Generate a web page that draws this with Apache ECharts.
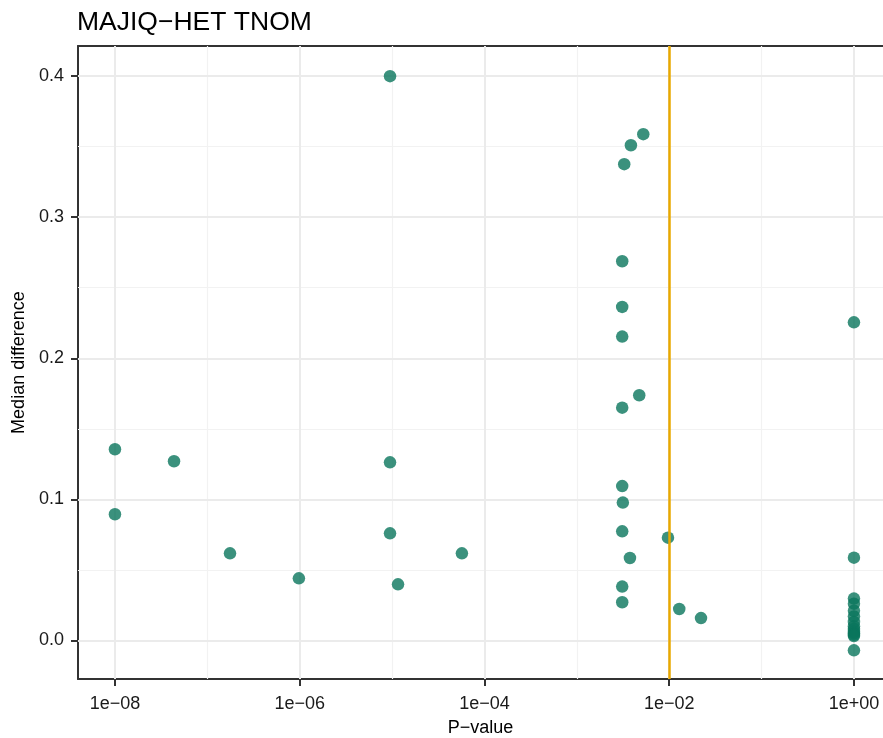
<!DOCTYPE html>
<html>
<head>
<meta charset="utf-8">
<script src="https://cdn.jsdelivr.net/npm/echarts@6/dist/echarts.min.js"></script>
<style>html,body{margin:0;padding:0;background:#fff}#c{width:883px;height:738px}</style>
</head>
<body>
<div id="c"></div>
<script>
const titleText = "MAJIQ\u2212HET TNOM";
const xName = "P\u2212value";
const yName = "Median difference";
// x axis is drawn on log10(P-value)
const xTicks = [-8, -6, -4, -2, 0];
const xTickLabels = ["1e\u221208", "1e\u221206", "1e\u221204", "1e\u221202", "1e+00"];
const xMinorGrid = [-7, -5, -3, -1];
const yTicks = [0, 0.1, 0.2, 0.3, 0.4];
const yMinorGrid = [0.05, 0.15, 0.25, 0.35];
const thresholdP = 0.01;

const pValues = [
  1e-8, 1e-8, 4.36e-8, 1.76e-7, 9.8e-7, 9.5e-6, 9.5e-6, 9.5e-6, 1.16e-5, 5.7e-5,
  5.24e-3, 3.85e-3, 3.26e-3, 3.1e-3, 3.1e-3, 3.1e-3, 4.74e-3, 3.1e-3,
  3.1e-3, 3.15e-3, 3.1e-3, 9.7e-3, 3.76e-3, 3.1e-3, 3.1e-3, 0.01285, 0.0221,
  1, 1, 1, 1, 1, 1, 1, 1, 1, 1, 1, 1, 1, 1
];
const medianDiff = [
  0.1355, 0.0894, 0.127, 0.0617, 0.044, 0.400, 0.1262, 0.0759, 0.0397, 0.0617,
  0.3589, 0.351, 0.3376, 0.2688, 0.2364, 0.2154, 0.1738, 0.165,
  0.1094, 0.0977, 0.0773, 0.0728, 0.0584, 0.0381, 0.0270, 0.0222, 0.0158,
  0.2255, 0.0586, 0.0296, 0.026, 0.021, 0.017, 0.013, 0.010, 0.008, 0.006, 0.005, 0.004, 0.003, -0.0071
];

const points = pValues.map((p, i) => [Math.log10(p), medianDiff[i]]);
const font = "'Liberation Sans', Arial, Helvetica, sans-serif";
const xMin = -8.4, xMax = 0.3145;

const chart = echarts.init(document.getElementById('c'), null, {renderer: 'canvas'});
chart.setOption({
  animation: false,
  title: {
    text: titleText, left: 77, top: 9, padding: 0,
    textStyle: {fontFamily: font, fontSize: 26.5, fontWeight: 'normal', color: '#000'}
  },
  grid: {left: 78, top: 46, right: 0, bottom: 59, show: false, containLabel: false, outerBoundsMode: 'none'},
  xAxis: [{
    type: 'value', min: xMin, max: xMax,
    name: xName, nameLocation: 'middle', nameGap: 40,
    nameTextStyle: {fontFamily: font, fontSize: 18, color: '#000'},
    axisLine: {show: true, onZero: false, lineStyle: {color: '#333', width: 2}},
    axisTick: {show: true, length: 7, lineStyle: {color: '#333', width: 2}, customValues: xTicks},
    axisLabel: {
      show: true, margin: 16, fontFamily: font, fontSize: 18, color: '#1a1a1a',
      customValues: xTicks,
      formatter: function (v) {
        const i = xTicks.findIndex(t => Math.abs(t - v) < 1e-6);
        return i >= 0 ? xTickLabels[i] : '';
      }
    },
    splitLine: {show: false}
  }, {
    type: 'value', min: xMin, max: xMax, position: 'top',
    axisLine: {show: true, onZero: false, lineStyle: {color: '#333', width: 2}},
    axisTick: {show: false}, axisLabel: {show: false}, splitLine: {show: false}
  }],
  yAxis: {
    type: 'value', min: -0.0274, max: 0.4214,
    name: yName, nameLocation: 'middle', nameGap: 43,
    nameTextStyle: {fontFamily: font, fontSize: 18, color: '#000'},
    axisLine: {show: true, onZero: false, lineStyle: {color: '#333', width: 2}},
    axisTick: {show: true, length: 7, lineStyle: {color: '#333', width: 2}, customValues: yTicks},
    axisLabel: {
      show: true, margin: 14, fontFamily: font, fontSize: 18, color: '#1a1a1a',
      customValues: yTicks,
      formatter: v => v.toFixed(1)
    },
    splitLine: {show: false}
  },
  series: [
    {
      type: 'scatter', data: [], silent: true, z: 1,
      markLine: {
        silent: true, symbol: 'none', label: {show: false}, animation: false, z: 1,
        lineStyle: {color: '#f2f2f2', width: 1.2, type: 'solid'},
        data: xMinorGrid.map(v => ({xAxis: v})).concat(yMinorGrid.map(v => ({yAxis: v})))
      }
    },
    {
      type: 'scatter', data: [], silent: true, z: 1,
      markLine: {
        silent: true, symbol: 'none', label: {show: false}, animation: false, z: 1.5,
        lineStyle: {color: '#ebebeb', width: 2, type: 'solid'},
        data: xTicks.map(v => ({xAxis: v})).concat(yTicks.map(v => ({yAxis: v})))
      }
    },
    {
      type: 'scatter', data: points, symbol: 'circle', symbolSize: 12.5, z: 3,
      itemStyle: {color: 'rgb(10,118,92)', opacity: 0.8}
    },
    {
      type: 'scatter', data: [], silent: true, z: 4,
      markLine: {
        silent: true, symbol: 'none', label: {show: false}, animation: false, z: 6,
        lineStyle: {color: '#E9A800', width: 2.5, type: 'solid'},
        data: [{xAxis: Math.log10(thresholdP)}]
      }
    }
  ]
});
</script>
</body>
</html>
